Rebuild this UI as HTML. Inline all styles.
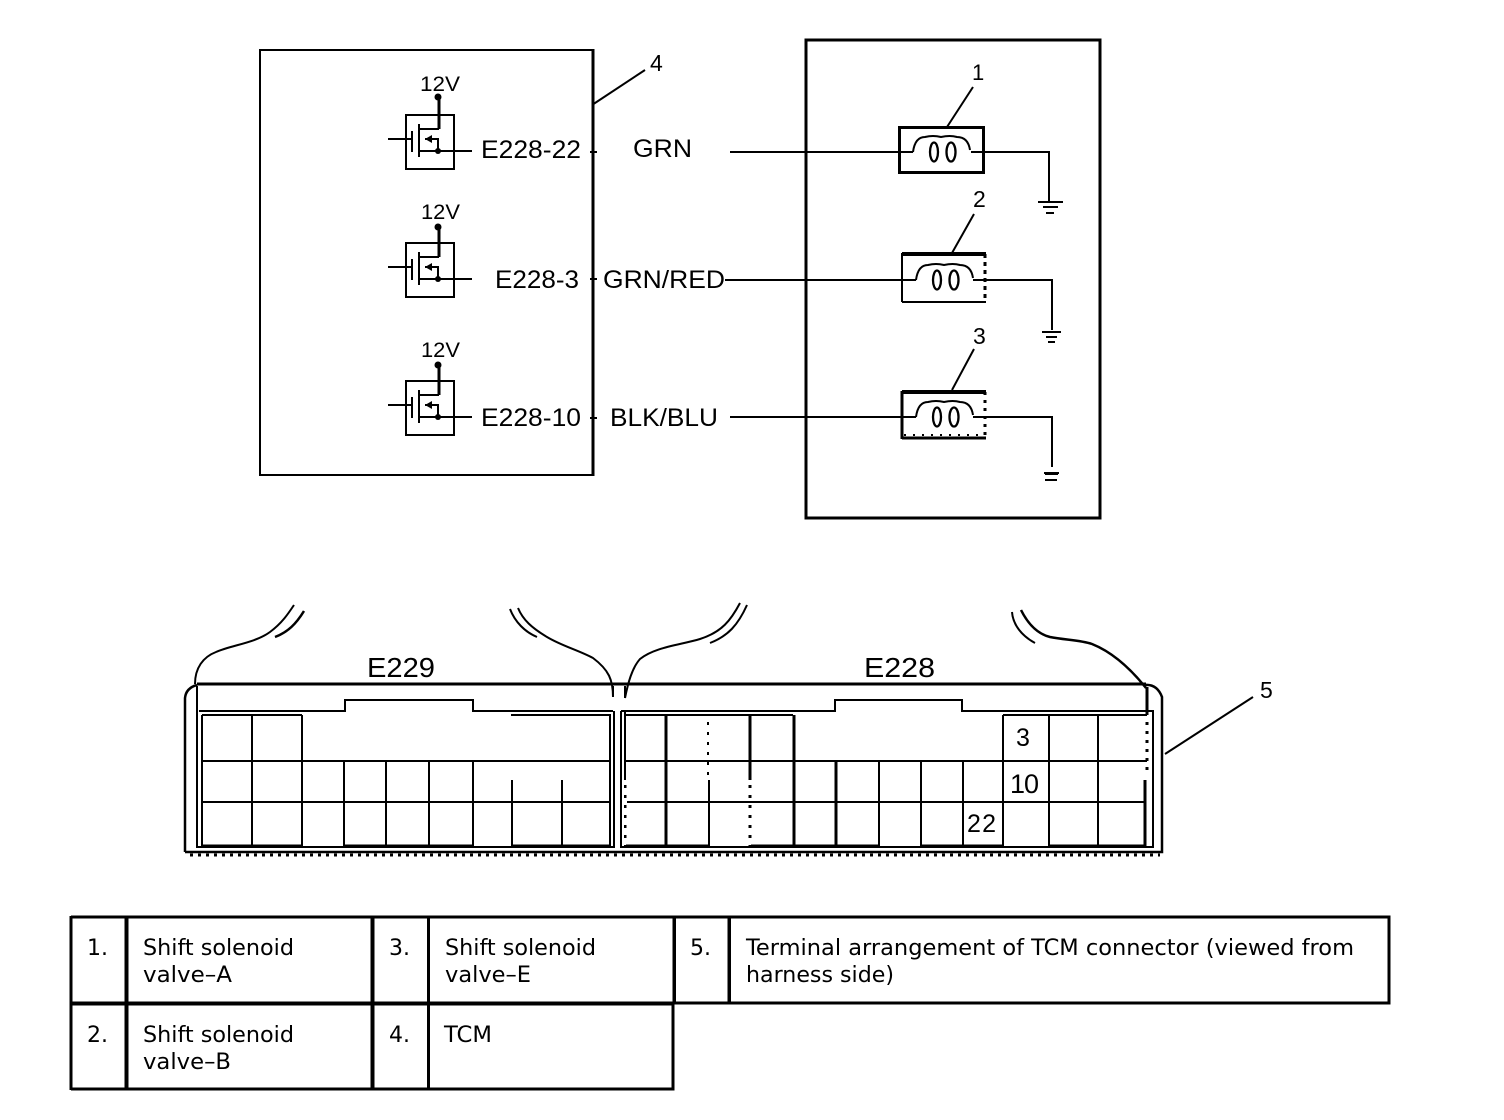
<!DOCTYPE html>
<html><head><meta charset="utf-8"><title>TCM diagram</title>
<style>
html,body{margin:0;padding:0;background:#fff}
svg{display:block}
text{fill:#000}
.d{font-family:"Liberation Sans",sans-serif;font-size:25px}
.t{font-family:"DejaVu Sans","Liberation Sans",sans-serif;font-size:22px}
.l{fill:none;stroke:#000;stroke-width:2}
.c{shape-rendering:crispEdges}
</style></head>
<body>
<svg width="1504" height="1120" viewBox="0 0 1504 1120" xmlns="http://www.w3.org/2000/svg">
<defs>
<g id="fet">
<rect x="406" y="115" width="48" height="54" fill="none" stroke="#000" stroke-width="2"/>
<path d="M388 139H412M412 131V152M419 124V157M419 129H439M419 151H472M425 139H438V151" fill="none" stroke="#000" stroke-width="2"/>
<path d="M439 129V110" fill="none" stroke="#000" stroke-width="3"/>
<path d="M425 139l7-4v8z" fill="#000"/>
<circle cx="438" cy="151" r="3" fill="#000"/>
</g>
<g id="coil" fill="none" stroke="#000" stroke-width="2">
<path d="M913 152Q915 137 925 137Q933 135 941 137Q950 135 957 137Q968 137 970 150"/>
<ellipse cx="934" cy="152" rx="4" ry="9.500" stroke-width="2.300"/>
<ellipse cx="951" cy="152" rx="4.500" ry="9.500" stroke-width="2.300"/>
</g>
</defs>

<!-- TCM box -->
<g class="c">
<rect x="260" y="50" width="333.5" height="425" fill="none" stroke="#000" stroke-width="2"/>
<path d="M593 50V475" stroke="#000" stroke-width="3"/>
<rect x="806" y="40" width="294" height="478" fill="none" stroke="#000" stroke-width="3"/>
<path d="M590 152H597M590 279H597M590 418H597" stroke="#000" stroke-width="2"/>
</g>
<path d="M592 105L645 70" class="l"/>
<text x="650" y="71" class="d" style="font-size:23px">4</text>

<use href="#fet"/>
<use href="#fet" y="128"/>
<use href="#fet" y="266"/>
<path d="M439 112V97M439 240V227M439 378V365" fill="none" stroke="#000" stroke-width="3"/>
<circle cx="438" cy="97" r="3.500" fill="#000"/>
<circle cx="438" cy="227" r="3.500" fill="#000"/>
<circle cx="438" cy="365" r="3.500" fill="#000"/>

<text x="420" y="91" class="d" textLength="40" lengthAdjust="spacingAndGlyphs" style="font-size:21px">12V</text>
<text x="421" y="219" class="d" textLength="39" lengthAdjust="spacingAndGlyphs" style="font-size:21px">12V</text>
<text x="421" y="357" class="d" textLength="39" lengthAdjust="spacingAndGlyphs" style="font-size:21px">12V</text>

<text x="481" y="158" class="d" textLength="100" lengthAdjust="spacingAndGlyphs">E228-22</text>
<text x="495" y="288" class="d" textLength="84" lengthAdjust="spacingAndGlyphs">E228-3</text>
<text x="481" y="426" class="d" textLength="100" lengthAdjust="spacingAndGlyphs">E228-10</text>
<text x="633" y="157" class="d" textLength="59" lengthAdjust="spacingAndGlyphs">GRN</text>
<text x="603" y="288" class="d" textLength="122" lengthAdjust="spacingAndGlyphs">GRN/RED</text>
<text x="610" y="426" class="d" textLength="108" lengthAdjust="spacingAndGlyphs">BLK/BLU</text>

<!-- wires -->
<g class="c" fill="none" stroke="#000" stroke-width="2">
<path d="M730 152H913M971 152H1049V202"/>
<path d="M725 280H916M973 280H1052V330"/>
<path d="M730 417H916M973 417H1052V467"/>
<path d="M1038 202H1063M1043 207H1058M1046 213H1054"/>
<path d="M1042 332H1061M1046 337H1057M1048 342H1055"/>
<path d="M1044 473H1059M1045 474H1058M1045 480H1057"/>
<rect x="899.5" y="127.5" width="84" height="45" stroke-width="3"/>
<path d="M902 302V254H986" stroke-width="2"/>
<path d="M902 254H986" stroke-width="4"/>
<path d="M902 302H986" stroke-width="2"/>
<path d="M985 254V302" stroke-width="3" stroke-dasharray="4 4"/>
<path d="M902 391V439" stroke-width="3"/>
<path d="M902 392H986" stroke-width="4"/>
<path d="M902 438H986" stroke-width="3"/>
<path d="M985 392V438" stroke-width="3" stroke-dasharray="3 5"/>
<path d="M904 435H984" stroke-width="2" stroke-dasharray="2 7"/>
</g>
<use href="#coil"/>
<use href="#coil" x="3" y="128"/>
<use href="#coil" x="3" y="265"/>
<path d="M947 127L973 87M952 253L974 214M952 390L974 349" class="l"/>
<text x="972" y="80" class="d" style="font-size:22px">1</text>
<text x="973" y="207" class="d" style="font-size:23px">2</text>
<text x="973" y="344" class="d" style="font-size:23px">3</text>

<!-- connector outer -->
<g fill="none" stroke="#000" stroke-width="2">
<path d="M185 852V698Q186 688 197 685" stroke-width="2.500"/>
<path d="M197 684H1146" stroke-width="3"/>
<path d="M1145 685Q1157 684 1162 697V852H185" stroke-width="2.500"/>
<path d="M190 855H1160" stroke-width="3" stroke-dasharray="3 5" class="c"/>
<path d="M195 684C195 668 203 657 216 652C232 645 255 643 270 632C282 623 288 614 294 605"/>
<path d="M275 637C288 632 296 624 304 611" stroke-width="2.500"/>
<path d="M613 697C613 680 609 670 593 658C578 650 562 646 547 637C532 628 523 620 518 608"/>
<path d="M510 609C515 622 525 632 537 637" stroke-width="2"/>
<path d="M625 698C628 683 632 668 640 659C655 647 680 645 700 639C722 632 731 620 740 603"/>
<path d="M710 643C728 636 738 625 747 605"/>
<path d="M1012 612C1013 625 1022 636 1035 643"/>
<path d="M1021 610C1028 624 1038 634 1050 637C1065 640 1080 640 1092 644C1112 652 1130 668 1146 688" stroke-width="2.500"/>
</g>

<g class="c" fill="none" stroke="#000" stroke-width="2">
<!-- E229 -->
<path d="M197 686V847H614V711"/>
<path d="M199 711H345V700H473V711H613"/>
<path d="M202 715V846M202 715H302M511 715H610V846"/>
<path d="M202 761H610M202 802H610"/>
<path d="M252 715V846M302 715V846M344 761V846M386 761V846M429 761V846M473 761V846M512 780V846M562 780V846"/>
<path d="M203 846H302M344 846H472M512 846H610" stroke-width="3"/>
<path d="M613 686V698" stroke-dasharray="10 3"/>
<!-- E228 -->
<path d="M621 711V847H1153V711H962V700H835V711H621"/>
<path d="M625 686V698M625 711V780"/>
<path d="M625 785V846" stroke-width="2.500" stroke-dasharray="3 7"/>
<path d="M625 715H793M1003 715H1147"/>
<path d="M625 761H1147M627 802H1145"/>
<path d="M666 715V846M794 715V846M836 761V846M879 761V846M921 761V846M963 761V846M1003 715V846M1049 715V846M1098 715V846" stroke-width="2"/>
<path d="M666 715V846M794 715V846M836 761V846" stroke-width="3"/>
<path d="M708 722V776" stroke-dasharray="3 7"/>
<path d="M709 780V846"/>
<path d="M750 715V780" stroke-width="3"/>
<path d="M750 785V846" stroke-width="3" stroke-dasharray="3 7"/>
<path d="M1147 687V715" stroke-width="3"/>
<path d="M1147 722V776" stroke-width="3" stroke-dasharray="3 6"/>
<path d="M1145 780V846" stroke-width="3"/>
<path d="M626 846H708M751 846H878M922 846H1002M1050 846H1145" stroke-width="3"/>
</g>
<path d="M1165 754L1253 697" class="l"/>
<text x="1260" y="698" class="d" style="font-size:23px">5</text>
<text x="367" y="677" class="d" textLength="68" lengthAdjust="spacingAndGlyphs" style="font-size:28px">E229</text>
<text x="864" y="677" class="d" textLength="71" lengthAdjust="spacingAndGlyphs" style="font-size:28px">E228</text>
<text x="1016" y="746" class="d">3</text>
<text x="1010" y="793" class="d" textLength="29" style="font-size:27px">10</text>
<text x="967" y="832" class="d" textLength="29">22</text>

<!-- table -->
<g class="c" fill="none" stroke="#000" stroke-width="3">
<path d="M71 917H1389V1003H71M71 1089H673V1003"/>
<path d="M71 916V1090M372.500 917V1089M428.500 917V1089"/>
<path d="M126.500 917V1089" stroke-width="4"/>
<path d="M372.500 917V1089" stroke-width="4"/>
<path d="M674 917V1003M729 917V1003" stroke-width="3.500"/>
<path d="M71 1003.500H673" stroke-width="4"/>
</g>
<g class="t">
<text x="87" y="955" class="t">1.</text>
<text x="143" y="955" class="t" textLength="151" lengthAdjust="spacingAndGlyphs">Shift solenoid</text>
<text x="143" y="982" class="t" textLength="89" lengthAdjust="spacingAndGlyphs">valve–A</text>
<text x="389" y="955" class="t">3.</text>
<text x="445" y="955" class="t" textLength="151" lengthAdjust="spacingAndGlyphs">Shift solenoid</text>
<text x="445" y="982" class="t" textLength="86" lengthAdjust="spacingAndGlyphs">valve–E</text>
<text x="690" y="955" class="t">5.</text>
<text x="746" y="955" class="t" textLength="608" lengthAdjust="spacingAndGlyphs">Terminal arrangement of TCM connector (viewed from</text>
<text x="746" y="982" class="t" textLength="148" lengthAdjust="spacingAndGlyphs">harness side)</text>
<text x="87" y="1042" class="t">2.</text>
<text x="143" y="1042" class="t" textLength="151" lengthAdjust="spacingAndGlyphs">Shift solenoid</text>
<text x="143" y="1069" class="t" textLength="88" lengthAdjust="spacingAndGlyphs">valve–B</text>
<text x="389" y="1042" class="t">4.</text>
<text x="444" y="1042" class="t" textLength="48" lengthAdjust="spacingAndGlyphs">TCM</text>
</g>
</svg>
</body></html>
